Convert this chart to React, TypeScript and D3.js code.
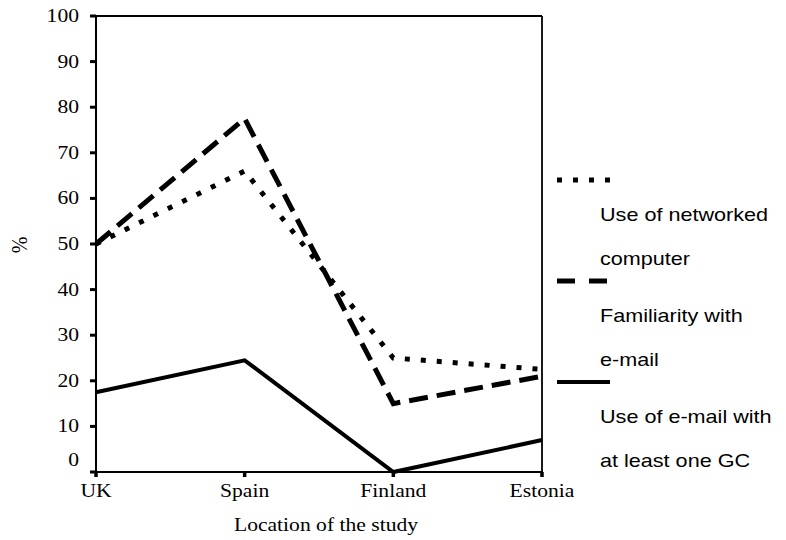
import React from "react";
import * as d3 from "d3";

const categories = ["UK", "Spain", "Finland", "Estonia"];
const networkedComputer = [50, 66, 25, 22.5];
const familiarityEmail = [50, 77.5, 15, 21];
const emailWithGC = [17.5, 24.5, 0, 7];
const yTicks = [0, 10, 20, 30, 40, 50, 60, 70, 80, 90, 100];
const legendLabels = [
  ["Use of networked", "computer"],
  ["Familiarity with", "e-mail"],
  ["Use of e-mail with", "at least one GC"],
];

const W = 786;
const H = 540;
const SX = 1.2;
const serif = "'Liberation Serif', 'Times New Roman', serif";
const sans = "'Liberation Sans', Arial, sans-serif";

function T({ x, y, children, anchor = "start", font = serif, size = 18 }: any) {
  return (
    <text
      transform={`translate(${x},${y}) scale(${SX},1)`}
      textAnchor={anchor}
      fontFamily={font}
      fontSize={size}
      fill="#000"
    >
      {children}
    </text>
  );
}

export default function App() {
  const x = d3.scalePoint<string>().domain(categories).range([96, 542]).padding(0);
  const y = d3.scaleLinear().domain([0, 100]).range([472, 16]);
  const line = d3
    .line<number>()
    .x((_, i) => x(categories[i]) as number)
    .y((d) => y(d));

  const series = [
    { data: networkedComputer, width: 5, dash: "5,11", legendDash: "5,11" },
    { data: familiarityEmail, width: 5, dash: "19,9", legendDash: "18,14" },
    { data: emailWithGC, width: 4, dash: null, legendDash: null },
  ];

  return (
    <svg
      width={W}
      height={H}
      style={{ position: "absolute", left: 0, top: 0, background: "#fff" }}
    >
      <rect x={0} y={0} width={W} height={H} fill="#fff" />
      {/* frame */}
      <line x1={96} x2={542} y1={16} y2={16} stroke="#000" strokeWidth={1.8} />
      <line x1={542} x2={542} y1={16} y2={472} stroke="#000" strokeWidth={1.8} />
      <line x1={96} x2={96} y1={16} y2={473} stroke="#000" strokeWidth={2} />
      <line x1={95} x2={543} y1={472} y2={472} stroke="#000" strokeWidth={2} />
      {/* y ticks */}
      {yTicks.map((t) => (
        <g key={t}>
          <line x1={90} x2={96} y1={y(t)} y2={y(t)} stroke="#000" strokeWidth={3} />
          <T x={79} y={y(t) + 6 - (t === 0 ? 12 : 0)} anchor="end">
            {t}
          </T>
        </g>
      ))}
      {/* x ticks */}
      {categories.map((c) => (
        <g key={c}>
          <line
            x1={x(c) as number}
            x2={x(c) as number}
            y1={472}
            y2={477}
            stroke="#000"
            strokeWidth={3.5}
          />
          <T x={x(c) as number} y={497} anchor="middle">
            {c}
          </T>
        </g>
      ))}
      <T x={326} y={531} anchor="middle">
        Location of the study
      </T>
      <text
        transform={`translate(27,245) rotate(-90) scale(1,1.2)`}
        textAnchor="middle"
        fontFamily={serif}
        fontSize={20}
      >
        %
      </text>
      {/* lines */}
      {series
        .slice()
        .reverse()
        .map((s, i) => (
          <path
            key={i}
            d={line(s.data) || ""}
            fill="none"
            stroke="#000"
            strokeWidth={s.width}
            strokeDasharray={s.dash || undefined}
            strokeLinejoin="miter"
          />
        ))}
      {/* legend */}
      {series.map((s, i) => {
        const ly = 180 + i * 101;
        return (
          <g key={i}>
            <line
              x1={557}
              x2={610}
              y1={ly}
              y2={ly}
              stroke="#000"
              strokeWidth={s.width}
              strokeDasharray={s.legendDash || undefined}
            />
            <T x={600} y={ly + 41} font={sans}>
              {legendLabels[i][0]}
            </T>
            <T x={600} y={ly + 85} font={sans}>
              {legendLabels[i][1]}
            </T>
          </g>
        );
      })}
    </svg>
  );
}
